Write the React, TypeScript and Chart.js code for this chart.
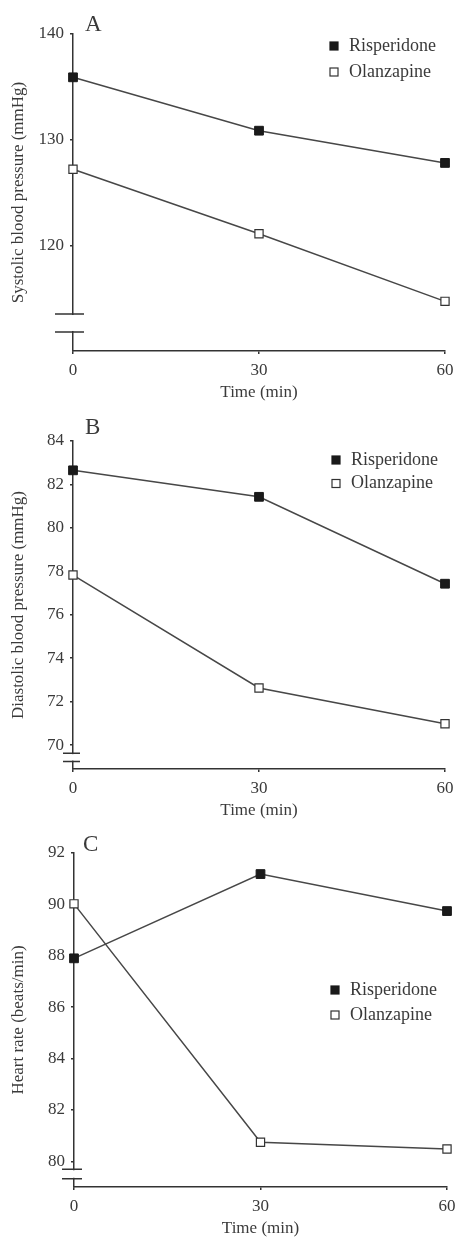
import React, { useEffect, useRef } from "react";
import { Chart, registerables } from "chart.js";

Chart.register(...registerables);

// ---------------- data ----------------
const TIME_MIN = [0, 30, 60];
const X_TICKS = [0, 30, 60];
const SERIES_NAMES = ["Risperidone", "Olanzapine"];
const X_TITLE = "Time (min)";

const SBP_RISPERIDONE = [135.9, 130.85, 127.8];
const SBP_OLANZAPINE = [127.2, 121.1, 114.7];
const SBP_TICKS = [120, 130, 140];

const DBP_RISPERIDONE = [82.65, 81.43, 77.43];
const DBP_OLANZAPINE = [77.83, 72.63, 70.98];
const DBP_TICKS = [70, 72, 74, 76, 78, 80, 82, 84];

const HR_RISPERIDONE = [87.9, 91.18, 89.74];
const HR_OLANZAPINE = [90.02, 80.74, 80.48];
const HR_TICKS = [80, 82, 84, 86, 88, 90, 92];

// ---------------- styles ----------------
const FONT_FAMILY = '"Liberation Serif", "Times New Roman", serif';
const TEXT_COLOR = "#3a3a3a";
const AXIS_COLOR = "#333333";
const LINE_COLOR = "#474747";

Chart.defaults.font.family = FONT_FAMILY;

type PanelCfg = {
  letter: string;
  yTitle: string;
  ris: number[];
  ola: number[];
  ticks: number[];
  yMin: number;
  yMax: number;
  breakHigh: number;
  breakLow: number;
  breakSpan: [number, number];
  top: number;
  height: number;
  padTop: number;
  padBottom: number;
  padRight: number;
  yWidth: number;
  legendX: number;
  legendY: number;
  legendGap: number;
  letterX: number;
  letterY: number;
};

const PANELS: PanelCfg[] = [
  {
    letter: "A",
    yTitle: "Systolic blood pressure (mmHg)",
    ris: SBP_RISPERIDONE,
    ola: SBP_OLANZAPINE,
    ticks: SBP_TICKS,
    yMin: 110,
    yMax: 140,
    breakHigh: 113.5,
    breakLow: 111.8,
    breakSpan: [-18, 11],
    top: 0,
    height: 405,
    padTop: 34,
    padBottom: 2,
    padRight: 10,
    yWidth: 73,
    legendX: 334,
    legendY: 46,
    legendGap: 26,
    letterX: 85,
    letterY: 25,
  },
  {
    letter: "B",
    yTitle: "Diastolic blood pressure (mmHg)",
    ris: DBP_RISPERIDONE,
    ola: DBP_OLANZAPINE,
    ticks: DBP_TICKS,
    yMin: 68.9,
    yMax: 84,
    breakHigh: 69.63,
    breakLow: 69.24,
    breakSpan: [-10, 7],
    top: 405,
    height: 420,
    padTop: 36,
    padBottom: 4,
    padRight: 10,
    yWidth: 73,
    legendX: 336,
    legendY: 55,
    legendGap: 23.5,
    letterX: 85,
    letterY: 23,
  },
  {
    letter: "C",
    yTitle: "Heart rate (beats/min)",
    ris: HR_RISPERIDONE,
    ola: HR_OLANZAPINE,
    ticks: HR_TICKS,
    yMin: 79,
    yMax: 92,
    breakHigh: 79.69,
    breakLow: 79.32,
    breakSpan: [-12, 8],
    top: 825,
    height: 415,
    padTop: 28,
    padBottom: 1,
    padRight: 8,
    yWidth: 74,
    legendX: 335,
    legendY: 165,
    legendGap: 25,
    letterX: 83,
    letterY: 20,
  },
];

const decorPlugin = {
  id: "panelDecor",
  afterDraw(chart: any, _args: any, opts: any) {
    const { ctx, chartArea, scales } = chart;
    const y = scales.y;
    const axisX = chartArea.left;
    ctx.save();

    // axis break
    const yUp = y.getPixelForValue(opts.breakHigh);
    const yLo = y.getPixelForValue(opts.breakLow);
    ctx.fillStyle = "#ffffff";
    ctx.fillRect(axisX - 3, yUp + 1, 6, yLo - yUp - 2);
    ctx.strokeStyle = AXIS_COLOR;
    ctx.lineWidth = 1.5;
    ctx.beginPath();
    ctx.moveTo(axisX + opts.breakSpan[0], yUp);
    ctx.lineTo(axisX + opts.breakSpan[1], yUp);
    ctx.moveTo(axisX + opts.breakSpan[0], yLo);
    ctx.lineTo(axisX + opts.breakSpan[1], yLo);
    ctx.stroke();

    // panel letter
    ctx.fillStyle = TEXT_COLOR;
    ctx.font = `23px ${FONT_FAMILY}`;
    ctx.textBaseline = "middle";
    ctx.textAlign = "left";
    ctx.fillText(opts.letter, opts.letterX, opts.letterY);

    // legend
    ctx.font = `18px ${FONT_FAMILY}`;
    chart.data.datasets.forEach((ds: any, i: number) => {
      const cy = opts.legendY + i * opts.legendGap;
      const s = 8;
      ctx.fillStyle = ds.pointBackgroundColor;
      ctx.fillRect(opts.legendX - s / 2, cy - s / 2, s, s);
      ctx.strokeStyle = ds.pointBorderColor;
      ctx.lineWidth = 1.2;
      ctx.strokeRect(opts.legendX - s / 2, cy - s / 2, s, s);
      ctx.fillStyle = TEXT_COLOR;
      ctx.fillText(ds.label, opts.legendX + 15, cy);
    });
    ctx.restore();
  },
};

function Panel({ cfg }: { cfg: PanelCfg }) {
  const ref = useRef<HTMLCanvasElement | null>(null);

  useEffect(() => {
    if (!ref.current) return;
    const tickFont = { size: 17, family: FONT_FAMILY };
    const chart = new Chart(ref.current, {
      type: "line",
      data: {
        labels: TIME_MIN,
        datasets: [
          {
            label: SERIES_NAMES[0],
            data: TIME_MIN.map((t, i) => ({ x: t, y: cfg.ris[i] })),
            borderColor: LINE_COLOR,
            borderWidth: 1.5,
            pointStyle: "rect",
            pointRadius: 6.2,
            pointBackgroundColor: "#1a1a1a",
            pointBorderColor: "#1a1a1a",
            pointBorderWidth: 1,
            tension: 0,
            clip: false,
          },
          {
            label: SERIES_NAMES[1],
            data: TIME_MIN.map((t, i) => ({ x: t, y: cfg.ola[i] })),
            borderColor: LINE_COLOR,
            borderWidth: 1.5,
            pointStyle: "rect",
            pointRadius: 5.8,
            pointBackgroundColor: "#ffffff",
            pointBorderColor: "#333333",
            pointBorderWidth: 1.2,
            tension: 0,
            clip: false,
          },
        ],
      } as any,
      options: {
        animation: false,
        responsive: false,
        maintainAspectRatio: false,
        events: [],
        layout: {
          padding: { top: cfg.padTop, bottom: cfg.padBottom, left: 0, right: cfg.padRight },
        },
        plugins: {
          legend: { display: false },
          title: { display: false },
          tooltip: { enabled: false },
          panelDecor: {
            letter: cfg.letter,
            letterX: cfg.letterX,
            letterY: cfg.letterY,
            legendX: cfg.legendX,
            legendY: cfg.legendY,
            legendGap: cfg.legendGap,
            breakHigh: cfg.breakHigh,
            breakLow: cfg.breakLow,
            breakSpan: cfg.breakSpan,
          },
        } as any,
        scales: {
          x: {
            type: "linear",
            min: 0,
            max: 60,
            afterBuildTicks: (s: any) => {
              s.ticks = X_TICKS.map((v) => ({ value: v }));
            },
            afterFit: (s: any) => {
              s.height = 52;
              s.paddingLeft = 0;
              s.paddingRight = 0;
            },
            grid: {
              display: true,
              drawOnChartArea: false,
              drawTicks: true,
              tickLength: 3,
              color: AXIS_COLOR,
              lineWidth: 1.5,
            },
            border: { display: true, color: AXIS_COLOR, width: 1.5 },
            ticks: {
              font: tickFont,
              color: TEXT_COLOR,
              padding: 6,
              maxRotation: 0,
              autoSkip: false,
            },
            title: {
              display: true,
              text: X_TITLE,
              font: tickFont,
              color: TEXT_COLOR,
              padding: { top: 0, bottom: 0 },
            },
          },
          y: {
            type: "linear",
            min: cfg.yMin,
            max: cfg.yMax,
            afterBuildTicks: (s: any) => {
              s.ticks = cfg.ticks.map((v) => ({ value: v }));
            },
            afterFit: (s: any) => {
              s.width = cfg.yWidth;
              s.paddingTop = 0;
              s.paddingBottom = 0;
            },
            grid: {
              display: true,
              drawOnChartArea: false,
              drawTicks: true,
              tickLength: 3,
              color: AXIS_COLOR,
              lineWidth: 1.5,
            },
            border: { display: true, color: AXIS_COLOR, width: 1.5 },
            ticks: {
              font: tickFont,
              color: TEXT_COLOR,
              padding: 6,
              autoSkip: false,
            },
            title: {
              display: true,
              text: cfg.yTitle,
              font: tickFont,
              color: TEXT_COLOR,
              padding: { top: 8, bottom: 0 },
            },
          },
        },
      } as any,
      plugins: [decorPlugin],
    });
    return () => chart.destroy();
  }, [cfg]);

  return (
    <canvas
      ref={ref}
      width={455}
      height={cfg.height}
      style={{ position: "absolute", left: 0, top: cfg.top, width: 455, height: cfg.height, display: "block" }}
    />
  );
}

export default function App() {
  return (
    <div style={{ position: "absolute", left: 0, top: 0, width: 455, height: 1240, background: "#ffffff" }}>
      {PANELS.map((p) => (
        <Panel key={p.letter} cfg={p} />
      ))}
    </div>
  );
}
